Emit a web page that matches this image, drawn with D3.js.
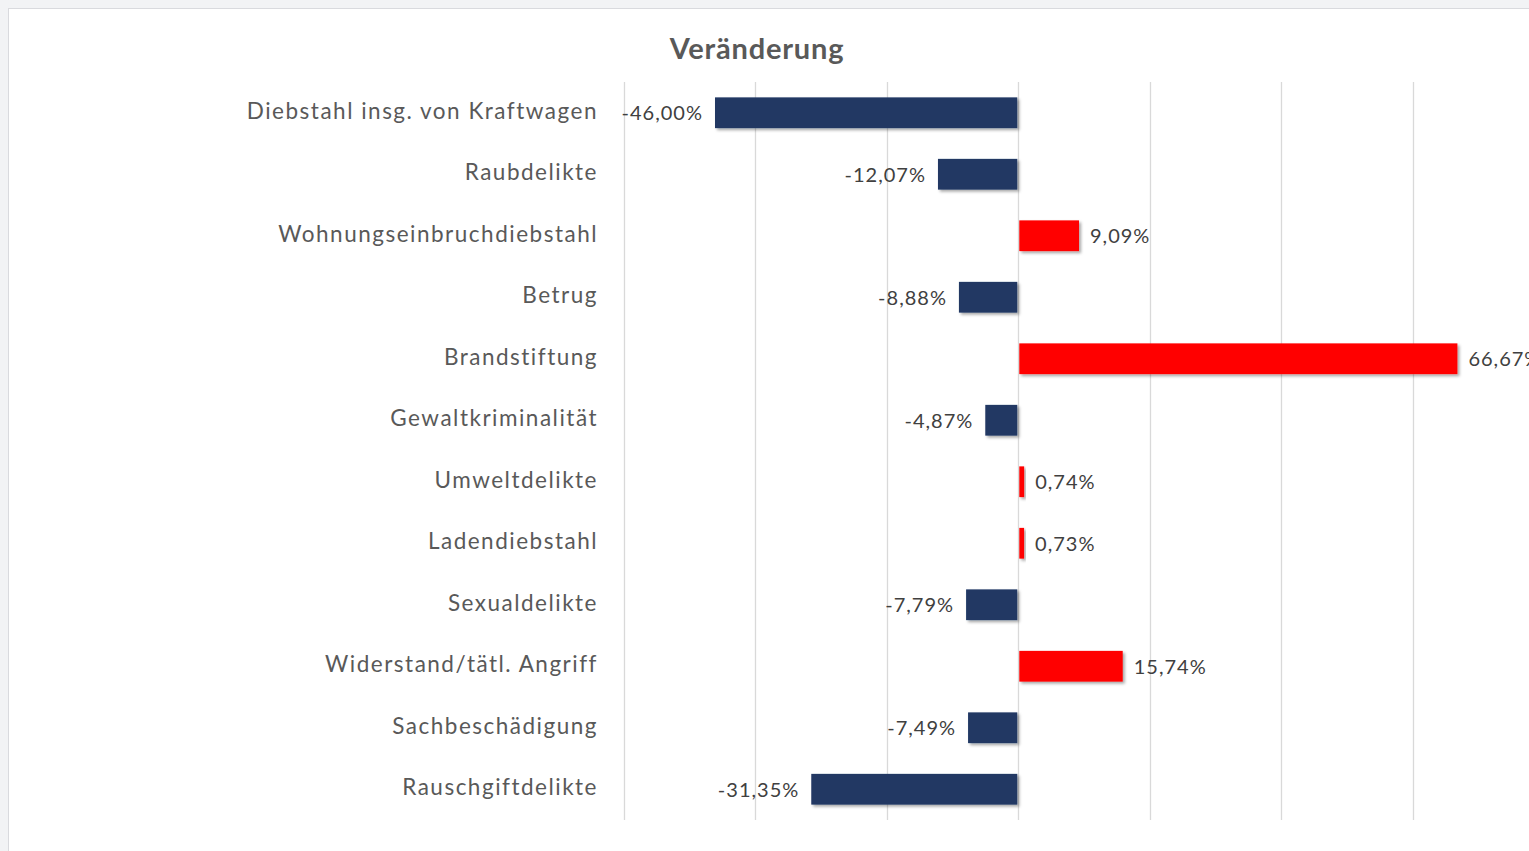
<!DOCTYPE html>
<html lang="de">
<head>
  <meta charset="UTF-8">
  <title>Veränderung</title>
  <script src="https://cdn.jsdelivr.net/npm/d3@7"></script>
  <style>
    html, body { margin: 0; padding: 0; background: #f2f3f5; }
    svg { display: block; }
  </style>
</head>
<body>
  <script>
    ((window, document) => {
      "use strict";

      /**
       * -----------------------------------------------------------------------
       *  Data
       * -----------------------------------------------------------------------
       */
      const CATEGORIES = [
        "Diebstahl insg. von Kraftwagen",
        "Raubdelikte",
        "Wohnungseinbruchdiebstahl",
        "Betrug",
        "Brandstiftung",
        "Gewaltkriminalität",
        "Umweltdelikte",
        "Ladendiebstahl",
        "Sexualdelikte",
        "Widerstand/tätl. Angriff",
        "Sachbeschädigung",
        "Rauschgiftdelikte",
      ];
      const CHANGES = [
        -46.00, -12.07, 9.09, -8.88, 66.67, -4.87,
        0.74, 0.73, -7.79, 15.74, -7.49, -31.35,
      ];
      const GRID_TICKS = [-60, -40, -20, 0, 20, 40, 60, 80];
      const TITLE = "Veränderung";

      const WIDTH = 1529;
      const HEIGHT = 851;
      const FONT = "Lato, 'Open Sans', sans-serif";

      /**
       * -----------------------------------------------------------------------
       *  Render
       * -----------------------------------------------------------------------
       */
      let svg = d3.select("body").append("svg")
          .attr("width", WIDTH)
          .attr("height", HEIGHT);

      let defs = svg.append("defs");
      let shadow = defs.append("filter")
          .attr("id", "shadow")
          .attr("x", "-10%").attr("y", "-30%")
          .attr("width", "130%").attr("height", "180%");
      shadow.append("feDropShadow")
          .attr("dx", 2).attr("dy", 2)
          .attr("stdDeviation", 1.8)
          .attr("flood-color", "#000")
          .attr("flood-opacity", 0.35);

      // white chart panel with light border
      svg.append("rect")
          .attr("x", 8.5).attr("y", 8.5)
          .attr("width", WIDTH).attr("height", HEIGHT)
          .attr("fill", "#fff")
          .attr("stroke", "#d9dade");

      let x = d3.scaleLinear().domain([-60, 80]).range([624, 1544]);
      let y = d3.scaleBand().domain(CATEGORIES).range([82, 820]).paddingInner(0.5).paddingOuter(0.25);

      // gridlines
      svg.append("g").selectAll("line")
          .data(GRID_TICKS)
          .join("line")
          .attr("x1", d => Math.round(x(d)) + 0.5)
          .attr("x2", d => Math.round(x(d)) + 0.5)
          .attr("y1", 82)
          .attr("y2", 820)
          .attr("stroke", "#d9d9d9")
          .attr("stroke-width", 1.3);

      // title
      svg.append("text")
          .attr("x", 757)
          .attr("y", 59)
          .attr("text-anchor", "middle")
          .attr("font-family", FONT)
          .attr("font-size", 29)
          .attr("font-weight", "bold")
          .attr("letter-spacing", 0.8)
          .attr("fill", "#595959")
          .text(TITLE);

      let rows = CATEGORIES.map((name, i) => ({ name, value: CHANGES[i] }));

      // bars
      svg.append("g").selectAll("rect")
          .data(rows)
          .join("rect")
          .attr("x", d => x(Math.min(0, d.value)))
          .attr("y", d => y(d.name))
          .attr("width", d => Math.abs(x(d.value) - x(0)))
          .attr("height", y.bandwidth())
          .attr("fill", d => d.value < 0 ? "#203864" : "#ff0000")
          .attr("filter", "url(#shadow)")
          .attr("transform", d => d.value < 0 ? "translate(-1,0)" : "translate(1,0)");

      // category labels
      svg.append("g").selectAll("text")
          .data(rows)
          .join("text")
          .attr("x", 598)
          .attr("y", d => y(d.name) + y.bandwidth() / 2 - 2)
          .attr("dy", "0.35em")
          .attr("text-anchor", "end")
          .attr("font-family", FONT)
          .attr("font-size", 22.5)
          .attr("letter-spacing", 1.5)
          .attr("fill", "#595959")
          .text(d => d.name);

      // value labels
      let fmt = v => d3.format(".2f")(v).replace("−", "-").replace(".", ",") + "%";
      svg.append("g").selectAll("text")
          .data(rows)
          .join("text")
          .attr("x", d => d.value < 0 ? x(d.value) - 13 : x(d.value) + 12)
          .attr("y", d => y(d.name) + y.bandwidth() / 2 + 0.5)
          .attr("dy", "0.35em")
          .attr("text-anchor", d => d.value < 0 ? "end" : "start")
          .attr("font-family", FONT)
          .attr("font-size", 20)
          .attr("letter-spacing", 1)
          .attr("fill", "#404040")
          .text(d => fmt(d.value));

    })(window, document);
  </script>
</body>
</html>
